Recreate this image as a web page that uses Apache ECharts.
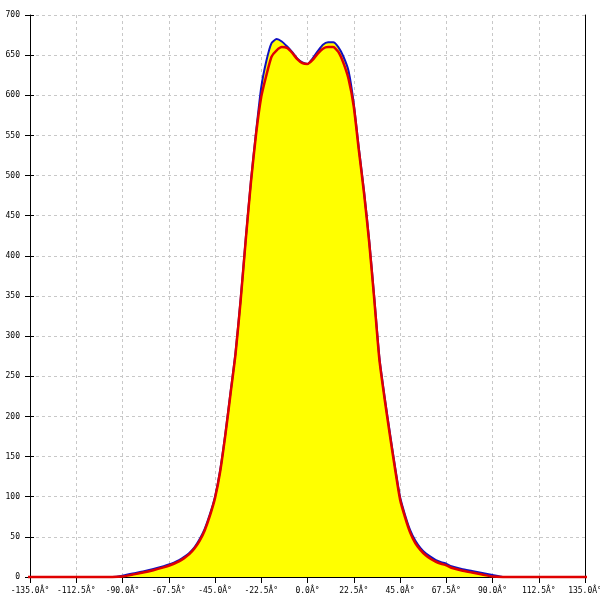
<!DOCTYPE html>
<html>
<head>
<meta charset="utf-8">
<script src="https://cdn.jsdelivr.net/npm/echarts@6/dist/echarts.min.js"></script>
<style>html,body{margin:0;padding:0;background:#fff}#c{width:600px;height:600px}</style>
</head>
<body>
<div id="c"></div>
<script>
const angles = [-150,-95,-90,-85,-80,-75,-70,-67.5,-65,-62.5,-60,-57.5,-55,-52.5,-50,-47.5,-45,-42.5,-40,-37.5,-35,-32.5,-30,-27.5,-25,-22.5,-20,-17.5,-15,-12.5,-10,-7.5,-5,-2.5,0,2.5,5,7.5,10,12.5,15,17.5,20,22.5,25,27.5,30,32.5,35,37.5,40,42.5,45,47.5,50,52.5,55,57.5,60,62.5,65,67.5,70,75,80,85,90,95,150];
const blueValues = [0,0,1.5,4.5,7,10,13.5,15.5,18,21,25,30,37,47,60,78,100,133,178,229,280,347,423,494,555,610,643,665,670,667,661,654,646,641,639,646,655,663,666,666,660,648,630,590,534,481,420,348,273,225,181,139,100,77,58,45,36,29.5,25,21,18.5,16.5,13.5,10,7.5,5,2.5,0,0];
const redValues = [0,0,0.5,3,5.5,8.5,12,14,16.5,19.5,23.5,28.5,35.5,45,58,76,98,131,176,227,278,345,421,492,552,598,625,648,656,660,659,653,645,640,639,644,652,658,660,660,654,640,620,586,531,478,417,345,270,222,178,136,97,74,55,42,33.5,27,22.5,19,16.5,14.5,11.5,8,5.5,3,0.5,0,0];
const xTicks = [-135,-112.5,-90,-67.5,-45,-22.5,0,22.5,45,67.5,90,112.5,135];
const xTickLabels = ['-135.0Â°','-112.5Â°','-90.0Â°','-67.5Â°','-45.0Â°','-22.5Â°','0.0Â°','22.5Â°','45.0Â°','67.5Â°','90.0Â°','112.5Â°','135.0Â°'];
const yTickLabels = ['0','50','100','150','200','250','300','350','400','450','500','550','600','650','700'];

const blueData = angles.map((a,i)=>[a,blueValues[i]]);
const redData = angles.map((a,i)=>[a,redValues[i]]);
const font = {fontFamily:'DejaVu Sans Mono', fontSize:8, color:'#000'};
const chart = echarts.init(document.getElementById('c'), null, {renderer:'canvas'});
chart.setOption({
  animation:false,
  backgroundColor:'#fff',
  grid:{left:30,right:15,top:15,bottom:23,outerBoundsMode:'none',containLabel:false},
  xAxis:{
    type:'value', min:-135, max:135, interval:22.5,
    axisLine:{show:true,onZero:false,lineStyle:{color:'#000',width:1}},
    axisTick:{show:true,length:6,lineStyle:{color:'#000'}},
    axisLabel:Object.assign({margin:10,formatter:v=>{const i=xTicks.indexOf(v);return i>=0?xTickLabels[i]:'';}},font),
    splitLine:{show:true,lineStyle:{color:'#c8c8c8',type:[3,3],width:1}}
  },
  yAxis:[
    {type:'value',min:0,max:700,interval:50,position:'left',
     axisLine:{show:true,onZero:false,lineStyle:{color:'#000',width:1}},
     axisTick:{show:true,length:5,lineStyle:{color:'#000'}},
     axisLabel:Object.assign({margin:10,formatter:v=>yTickLabels[Math.round(v/50)]},font),
     splitLine:{show:true,lineStyle:{color:'#c8c8c8',type:[3,3],width:1}}},
    {type:'value',min:0,max:700,interval:50,position:'left',offset:0,
     axisLine:{show:false,onZero:false},
     axisTick:{show:true,inside:true,length:4,lineStyle:{color:'#000'}},
     axisLabel:{show:false},splitLine:{show:false}},
    {type:'value',min:0,max:700,interval:50,position:'right',
     axisLine:{show:true,onZero:false,lineStyle:{color:'#000',width:1}},
     axisTick:{show:false},axisLabel:{show:false},splitLine:{show:false}}
  ],
  series:[
    {type:'line',data:blueData,symbol:'none',smooth:0.2,
     lineStyle:{color:'#1010c0',width:2},
     areaStyle:{color:'#ffff00',opacity:1},z:2},
    {type:'line',data:redData,symbol:'none',smooth:0.2,clip:false,
     lineStyle:{color:'#e00000',width:2.5},z:3}
  ]
});
</script>
</body>
</html>
